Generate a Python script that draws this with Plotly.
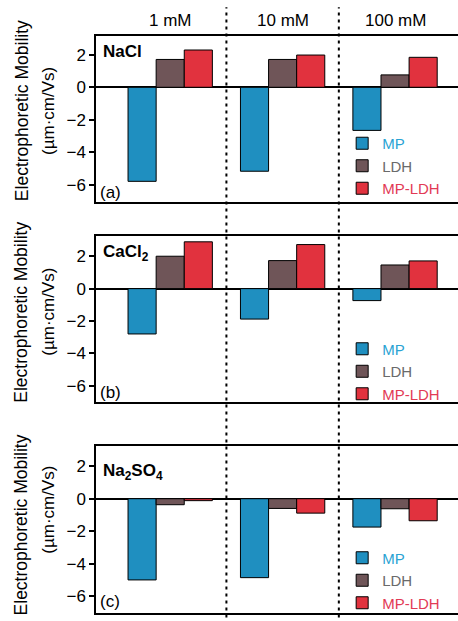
import plotly.graph_objects as go
from plotly.subplots import make_subplots

concentrations = ["1 mM", "10 mM", "100 mM"]
series_names = ["MP", "LDH", "MP-LDH"]
panel_salts = ["<b>NaCl</b>", "<b>CaCl<sub>2</sub></b>", "<b>Na<sub>2</sub>SO<sub>4</sub></b>"]
panel_tags = ["(a)", "(b)", "(c)"]

# electrophoretic mobility (µm·cm/Vs)
nacl_mp = [-5.78, -5.16, -2.65]
nacl_ldh = [1.71, 1.71, 0.76]
nacl_mpldh = [2.29, 1.98, 1.84]

cacl2_mp = [-2.80, -1.88, -0.74]
cacl2_ldh = [2.00, 1.73, 1.46]
cacl2_mpldh = [2.89, 2.72, 1.71]

na2so4_mp = [-5.01, -4.87, -1.75]
na2so4_ldh = [-0.37, -0.60, -0.62]
na2so4_mpldh = [-0.12, -0.89, -1.36]

panels = [
    [nacl_mp, nacl_ldh, nacl_mpldh],
    [cacl2_mp, cacl2_ldh, cacl2_mpldh],
    [na2so4_mp, na2so4_ldh, na2so4_mpldh],
]

bar_colors = ["#1f8fc0", "#6f5558", "#e1323e"]
text_colors = ["#2aa3d3", "#6a6a6a", "#e23a55"]
FONT = "Liberation Sans, Arial, sans-serif"

x_range = [-0.66, 2.56]
domains = [[0.7123, 1.0], [0.3657, 0.6534], [0.0, 0.2894]]
y_ranges = [[-7.05, 3.15], [-7.0, 3.25], [-7.05, 3.25]]
legend_y = [0.7747, 0.4185, 0.0563]
salt_y = [0.904, 0.898, 0.844]
tag_y = [0.06, 0.056, 0.068]
title1_y = [0.55, 0.54, 0.527]
title2_y = [0.55, 0.545, 0.62]

fig = make_subplots(rows=3, cols=1, shared_xaxes=False, vertical_spacing=0.05)

legend_keys = ["legend", "legend2", "legend3"]
for p, vals in enumerate(panels):
    for s, name in enumerate(series_names):
        fig.add_trace(
            go.Bar(
                x=list(range(len(concentrations))),
                y=vals[s],
                name=f"<span style='color:{text_colors[s]}'>{name}</span>",
                marker=dict(color=bar_colors[s], line=dict(color="black", width=1)),
                legend=legend_keys[p],
            ),
            row=p + 1, col=1,
        )

layout_legends = {}
for p in range(3):
    layout_legends[legend_keys[p]] = dict(
        x=0.68, y=legend_y[p], xanchor="left", yanchor="middle",
        bgcolor="rgba(0,0,0,0)", font=dict(family=FONT, size=15),
        tracegroupgap=0, itemwidth=30,
    )

fig.update_layout(
    width=458, height=621,
    margin=dict(l=96, r=0, t=36, b=8),
    paper_bgcolor="white", plot_bgcolor="white",
    barmode="group", bargap=0.25, bargroupgap=0,
    font=dict(family=FONT, size=17, color="black"),
    **layout_legends,
)

for p in range(3):
    xa = "xaxis" if p == 0 else f"xaxis{p+1}"
    ya = "yaxis" if p == 0 else f"yaxis{p+1}"
    fig.layout[xa].update(
        range=x_range, showticklabels=False, ticks="", showgrid=False,
        showline=True, linecolor="black", linewidth=1.5, mirror=True, zeroline=False,
    )
    fig.layout[ya].update(
        domain=domains[p], range=y_ranges[p], tickvals=[-6, -4, -2, 0, 2],
        ticks="outside", ticklen=5, tickwidth=1.5, tickcolor="black",
        showgrid=False, showline=True, linecolor="black", linewidth=1.5,
        zeroline=True, zerolinecolor="black", zerolinewidth=1.5,
        tickfont=dict(family=FONT, size=17),
    )

annotations = []
for i, c in enumerate(concentrations):
    annotations.append(dict(
        text=c, x=i, xref="x", y=1.0277, yref="paper", showarrow=False,
        xanchor="center", yanchor="middle", font=dict(size=17),
    ))
for p in range(3):
    sfx = "" if p == 0 else str(p + 1)
    annotations.append(dict(
        text=panel_salts[p], x=0.014, xref=f"x{sfx} domain", y=salt_y[p], yref=f"y{sfx} domain",
        showarrow=False, xanchor="left", yanchor="middle", font=dict(size=17),
    ))
    annotations.append(dict(
        text=panel_tags[p], x=0.006, xref=f"x{sfx} domain", y=tag_y[p], yref=f"y{sfx} domain",
        showarrow=False, xanchor="left", yanchor="middle", font=dict(size=17),
    ))
    annotations.append(dict(
        text="Electrophoretic Mobility", x=-0.206, xref="paper", y=title1_y[p], yref=f"y{sfx} domain",
        showarrow=False, textangle=-90, xanchor="center", yanchor="middle", font=dict(size=17.5),
    ))
    annotations.append(dict(
        text="(µm·cm/Vs)", x=-0.132, xref="paper", y=title2_y[p], yref=f"y{sfx} domain",
        showarrow=False, textangle=-90, xanchor="center", yanchor="middle", font=dict(size=17),
    ))
fig.update_layout(annotations=annotations)

# dashed dividers between concentration groups (category boundaries)
span = x_range[1] - x_range[0]
for b in [0.5, 1.5]:
    xp = (b - x_range[0]) / span
    fig.add_shape(type="line", xref="paper", yref="paper", x0=xp, x1=xp, y0=-0.02, y1=1.05,
                  line=dict(color="black", width=2, dash="3px,4px"), layer="above")

fig.write_html("out.html")
